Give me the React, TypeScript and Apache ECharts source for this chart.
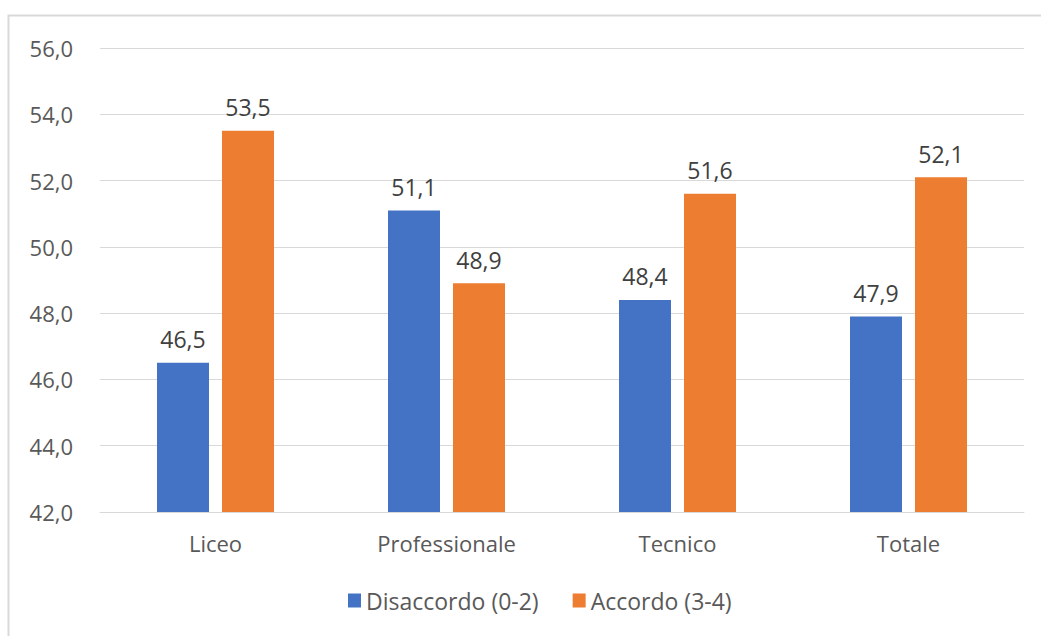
import React, { useEffect, useRef } from "react";
import * as echarts from "echarts";

const categories = ["Liceo", "Professionale", "Tecnico", "Totale"];
const disaccordo = [46.5, 51.1, 48.4, 47.9];
const accordo = [53.5, 48.9, 51.6, 52.1];
const seriesNames = ["Disaccordo (0-2)", "Accordo (3-4)"];

const FONT = "'Open Sans', 'Noto Sans', sans-serif";
const fmt = (v: number) => v.toFixed(1).replace(".", ",");

export default function App() {
  const ref = useRef<HTMLDivElement>(null);
  useEffect(() => {
    document.body.style.margin = "0";
    const chart = echarts.init(ref.current!, null, { renderer: "svg" });
    const label = {
      show: true,
      position: "top" as const,
      distance: 12,
      color: "#404040",
      fontSize: 23,
      fontFamily: FONT,
      formatter: (p: any) => fmt(p.value),
    };
    chart.setOption({
      animation: false,
      backgroundColor: "#ffffff",
      graphic: [
        {
          type: "rect",
          shape: { x: 8.5, y: 15.5, width: 1100, height: 700 },
          style: { fill: "none", stroke: "#D9D9D9", lineWidth: 2 },
          silent: true,
        },
      ],
      grid: { left: 100, right: 17, top: 48, bottom: 124 },
      legend: {
        data: seriesNames,
        bottom: 19,
        left: 343,
        itemWidth: 13,
        itemHeight: 14,
        itemGap: 34,
        icon: "rect",
        textStyle: { color: "#595959", fontSize: 23, fontFamily: FONT },
      },
      xAxis: {
        type: "category",
        data: categories,
        axisLine: { lineStyle: { color: "#D9D9D9", width: 1 } },
        axisTick: { show: false },
        axisLabel: { color: "#595959", fontSize: 22, fontFamily: FONT, margin: 20 },
      },
      yAxis: {
        type: "value",
        min: 42,
        max: 56,
        interval: 2,
        axisLine: { show: false },
        axisTick: { show: false },
        splitLine: { lineStyle: { color: "#D9D9D9", width: 1 } },
        axisLabel: {
          color: "#595959",
          fontSize: 22,
          fontFamily: FONT,
          margin: 27,
          formatter: (v: number) => fmt(v),
        },
      },
      series: [
        {
          name: seriesNames[0],
          type: "bar",
          data: disaccordo,
          barWidth: 52,
          barGap: "25%",
          itemStyle: { color: "#4472C4" },
          label,
        },
        {
          name: seriesNames[1],
          type: "bar",
          data: accordo,
          barWidth: 52,
          barGap: "25%",
          itemStyle: { color: "#ED7D31" },
          label,
        },
      ],
    });
    return () => chart.dispose();
  }, []);
  return <div ref={ref} style={{ width: 1041, height: 636 }} />;
}
